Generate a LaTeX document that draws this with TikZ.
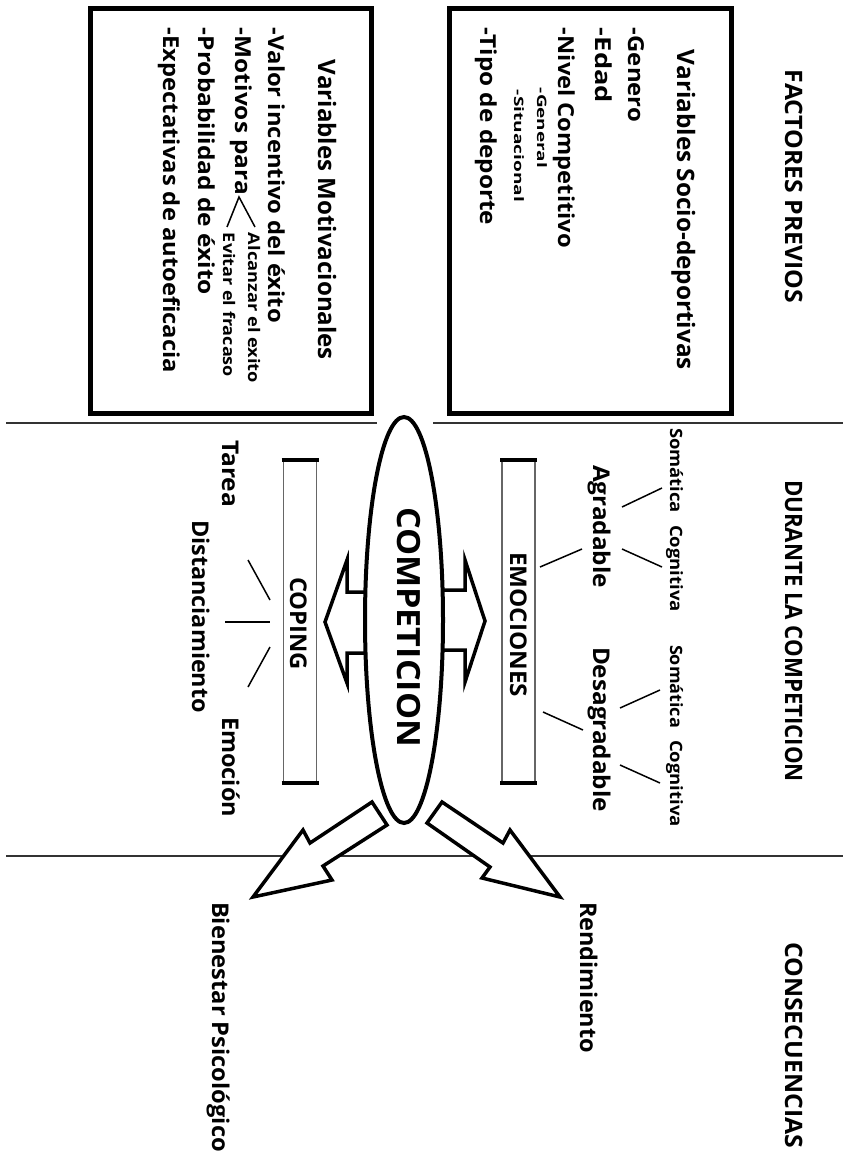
\documentclass[tikz,border=0pt]{standalone}
\usepackage{fontspec}
\setmainfont{Open Sans}
\usetikzlibrary{shapes.geometric}
\newcommand\fitlen[2]{\resizebox{#1pt}{\height}{#2}}
\begin{document}
\begin{tikzpicture}[x=1pt,y=-1pt,
  every node/.style={inner sep=0pt,outer sep=0pt},
  vt/.style={rotate=-90,anchor=base west,font=\bfseries\fontsize{#1}{#1}\selectfont},
  sep/.style={draw=black!80,line width=2pt},
  frame/.style={draw=black,line width=5pt},
  blockarrow/.style={draw=black,fill=white,line width=3.5pt,line join=miter},
  thin/.style={draw=black,line width=1.5pt},
  bar/.style={draw=black!60,line width=1.2pt,minimum width=33pt,minimum height=323pt},
  barcap/.style={draw=black,line width=4pt}]
\useasboundingbox (0,0) rectangle (843,1158);

% separators
\coordinate (l1a) at (6,423); \coordinate (l1b) at (377,423);
\coordinate (l1c) at (433,423); \coordinate (l1d) at (843,423);
\coordinate (l2a) at (6,856); \coordinate (l2b) at (843,856);
\draw[sep] (l1a) -- (l1b);
\draw[sep] (l1c) -- (l1d);
\draw[sep] (l2a) -- (l2b);

% headers
\node[vt=24] (h1) at (785,70) {\fitlen{233}{FACTORES PREVIOS}};
\node[vt=24] (h2) at (785,480) {\fitlen{302}{DURANTE LA COMPETICION}};
\node[vt=24] (h3) at (785,942) {\fitlen{206}{CONSECUENCIAS}};

% box socio-deportivas
\node[frame,minimum width=282pt,minimum height=404pt] (box1) at (590,211) {};
\node[vt=24] (t1) at (677,50) {\fitlen{320}{Variables Socio-deportivas}};
\node[vt=22] (g1) at (628,28) {\fitlen{94}{-Genero}};
\node[vt=22] (g2) at (595,28) {\fitlen{75}{-Edad}};
\node[vt=22] (g3) at (558,28) {\fitlen{220}{-Nivel Competitivo}};
\node[vt=13] (g4) at (537,88) {\fitlen{80}{-General}};
\node[vt=13] (g5) at (514,90) {\fitlen{112}{-Situacional}};
\node[vt=22] (g6) at (480,28) {\fitlen{197}{-Tipo de deporte}};

% box motivacionales
\node[frame,minimum width=281pt,minimum height=404pt] (box2) at (230.5,211) {};
\node[vt=24] (t2) at (318,60) {\fitlen{300}{Variables Motivacionales}};
\node[vt=22] (m1) at (268,28) {\fitlen{295}{-Valor incentivo del éxito}};
\node[vt=22] (m2) at (235,28) {\fitlen{167}{-Motivos para}};
\node[vt=22] (m3) at (198,28) {\fitlen{267}{-Probabilidad de éxito}};
\node[vt=22] (m4) at (163,28) {\fitlen{345}{-Expectativas de autoeficacia}};
\node[vt=16] (m5) at (248,233) {\fitlen{150}{Alcanzar el exito}};
\node[vt=16] (m6) at (223,233) {\fitlen{144}{Evitar el fracaso}};
\coordinate (mapex) at (239,197);
\coordinate (mend1) at (255,227);
\coordinate (mend2) at (227,227);
\draw[thin] (mend1) -- (mapex) -- (mend2);

% side block arrows
\draw[blockarrow] (420,590) -- (465,590) -- (465,560) -- (485,621) -- (465,682) -- (465,650) -- (420,650);
\draw[blockarrow] (390,592) -- (347,592) -- (347,560) -- (325,622) -- (347,683) -- (347,653) -- (390,653);

% bottom block arrows
\draw[blockarrow] (372,802) -- (310,843) -- (303,830) -- (253,897) -- (332,880) -- (323,866) -- (387,825) -- cycle;
\draw[blockarrow] (442,802) -- (503,843) -- (510,830) -- (560,897) -- (482,878) -- (490,867) -- (427,823) -- cycle;

% ellipse
\node[ellipse,draw=black,fill=white,line width=4pt,minimum width=78pt,minimum height=406pt] (comp) at (404,620) {};
\node[vt=32] (ct) at (397,507) {\fitlen{240}{COMPETICION}};

% emociones bar
\node[bar] (emo) at (518.5,621.5) {};
\draw[barcap] ([xshift=-2pt]emo.north west) -- ([xshift=2pt]emo.north east);
\draw[barcap] ([xshift=-2pt]emo.south west) -- ([xshift=2pt]emo.south east);
\node[vt=23] (et) at (510,552) {\fitlen{145}{EMOCIONES}};

% coping bar
\node[bar] (cop) at (300,621.5) {};
\draw[barcap] ([xshift=-2pt]cop.north west) -- ([xshift=2pt]cop.north east);
\draw[barcap] ([xshift=-2pt]cop.south west) -- ([xshift=2pt]cop.south east);
\node[vt=23] (cpt) at (290,577) {\fitlen{93}{COPING}};

% emotions labels
\node[vt=17] (s1) at (670,428) {\fitlen{85}{Somática}};
\node[vt=17] (c1) at (670,525) {\fitlen{87}{Cognitiva}};
\node[vt=17] (s2) at (670,645) {\fitlen{83}{Somática}};
\node[vt=17] (c2) at (670,740) {\fitlen{87}{Cognitiva}};
\node[vt=23] (agr) at (593,465) {\fitlen{123}{Agradable}};
\node[vt=23] (des) at (593,647) {\fitlen{165}{Desagradable}};
\coordinate (ea1) at (540,567); \coordinate (ea2) at (582,549);
\coordinate (eb1) at (622,507); \coordinate (eb2) at (662,488);
\coordinate (ec1) at (622,549); \coordinate (ec2) at (662,567);
\coordinate (ed1) at (543,712); \coordinate (ed2) at (583,730);
\coordinate (ee1) at (620,708); \coordinate (ee2) at (660,690);
\coordinate (ef1) at (620,765); \coordinate (ef2) at (660,783);
\draw[thin] (ea1) -- (ea2);
\draw[thin] (eb1) -- (eb2);
\draw[thin] (ec1) -- (ec2);
\draw[thin] (ed1) -- (ed2);
\draw[thin] (ee1) -- (ee2);
\draw[thin] (ef1) -- (ef2);

% coping labels
\node[vt=23] (tar) at (222,440) {\fitlen{67}{Tarea}};
\node[vt=23] (dis) at (192,520) {\fitlen{193}{Distanciamiento}};
\node[vt=23] (emc) at (222,717) {\fitlen{100}{Emoción}};
\coordinate (ka1) at (248,560); \coordinate (ka2) at (270,600);
\coordinate (kb1) at (225,622); \coordinate (kb2) at (270,622);
\coordinate (kc1) at (248,687); \coordinate (kc2) at (270,647);
\draw[thin] (ka1) -- (ka2);
\draw[thin] (kb1) -- (kb2);
\draw[thin] (kc1) -- (kc2);

% consequences
\node[vt=23] (ren) at (580,902) {\fitlen{151}{Rendimiento}};
\node[vt=23] (bie) at (212,902) {\fitlen{250}{Bienestar Psicológico}};
\end{tikzpicture}
\end{document}
